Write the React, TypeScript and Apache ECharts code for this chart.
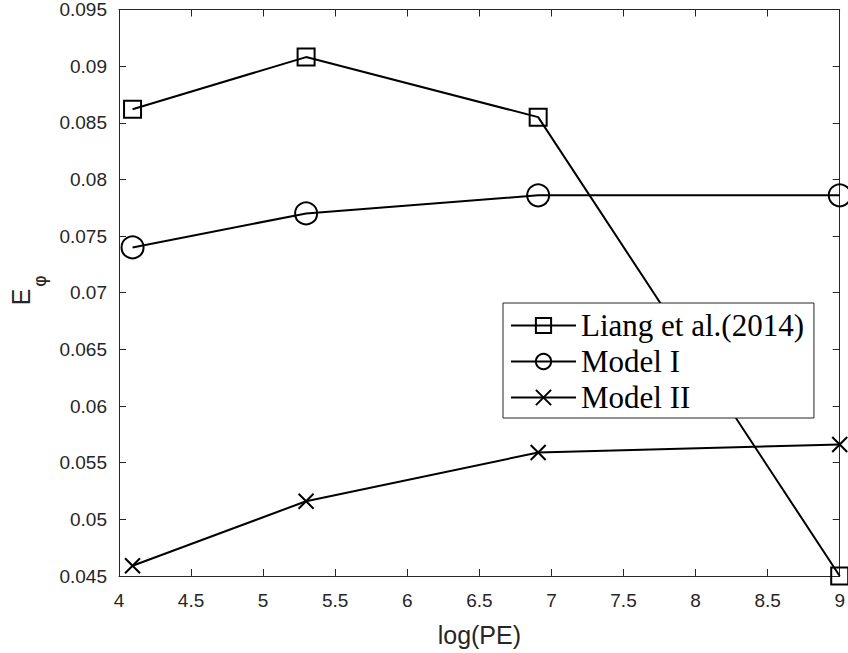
import React, { useEffect, useRef } from "react";
import * as echarts from "echarts";

const xValues = [4.094, 5.298, 6.908, 9.0];
const liang = [0.0862, 0.0908, 0.0855, 0.045];
const model1 = [0.0740, 0.0770, 0.0786, 0.0786];
const model2 = [0.0459, 0.0516, 0.0559, 0.0566];
const seriesNames = ["Liang et al.(2014)", "Model I", "Model II"];
const xAxisTitle = "log(PE)";
const yAxisTitle = "E";
const yAxisSub = "φ";

const crossPath = "path://M0,0L10,10M10,0L0,10";

export default function App() {
  const ref = useRef<HTMLDivElement>(null);
  useEffect(() => {
    if (!ref.current) return;
    const chart = echarts.init(ref.current, undefined, { renderer: "svg" });
    const toPairs = (ys: number[]) => xValues.map((x, i) => [x, ys[i]]);
    const axisLine = { show: true, lineStyle: { color: "#262626", width: 1 } };
    const tick = { show: true, inside: true, length: 7, lineStyle: { color: "#262626" } };
    const tickLabel = { color: "#262626", fontFamily: "Liberation Sans, Arial", fontSize: 19 };
    const mkSeries = (name: string, data: number[], symbol: string, size: number) => ({
      name,
      type: "line",
      data: toPairs(data),
      symbol,
      symbolSize: size,
      showSymbol: true,
      lineStyle: { color: "#000", width: 2 },
      itemStyle: { color: "rgba(0,0,0,0)", borderColor: "#000", borderWidth: 2 },
      emphasis: { disabled: true },
      clip: false,
    });
    chart.setOption({
      animation: false,
      backgroundColor: "#fff",
      grid: { left: 119, top: 5, right: 6, bottom: 77 },
      legend: {
        show: true,
        orient: "vertical",
        left: 503,
        top: 303,
        itemWidth: 65,
        itemHeight: 19,
        itemGap: 5,
        padding: [7, 10, 5, 7],
        backgroundColor: "#fff",
        borderColor: "#262626",
        borderWidth: 1,
        lineStyle: { color: "#000", width: 2 },
        itemStyle: { color: "rgba(0,0,0,0)", borderColor: "#000", borderWidth: 2 },
        textStyle: { fontFamily: "Liberation Serif, Times New Roman", fontSize: 31, color: "#000" },
        data: seriesNames,
      },
      graphic: [
        {
          type: "text",
          x: 21,
          y: 297,
          rotation: Math.PI / 2,
          style: {
            text: yAxisTitle,
            fontFamily: "Liberation Sans, Arial",
            fontSize: 25,
            fill: "#262626",
            align: "center",
            verticalAlign: "middle",
          },
        },
        {
          type: "text",
          x: 39,
          y: 281,
          rotation: Math.PI / 2,
          style: {
            text: yAxisSub,
            fontFamily: "DejaVu Sans",
            fontSize: 18,
            fill: "#262626",
            align: "center",
            verticalAlign: "middle",
          },
        },
      ],
      xAxis: [
        {
          type: "value",
          min: 4,
          max: 9,
          interval: 0.5,
          position: "bottom",
          axisLine,
          axisTick: tick,
          axisLabel: { ...tickLabel, margin: 15 },
          splitLine: { show: false },
          name: xAxisTitle,
          nameLocation: "middle",
          nameGap: 46,
          nameTextStyle: { color: "#262626", fontFamily: "Liberation Sans, Arial", fontSize: 25 },
        },
        {
          type: "value",
          min: 4,
          max: 9,
          interval: 0.5,
          position: "top",
          axisLine,
          axisTick: tick,
          axisLabel: { show: false },
          splitLine: { show: false },
        },
      ],
      yAxis: [
        {
          type: "value",
          min: 0.045,
          max: 0.095,
          interval: 0.005,
          position: "left",
          axisLine,
          axisTick: tick,
          axisLabel: { ...tickLabel, margin: 12, formatter: (v: number) => String(parseFloat(v.toFixed(3))) },
          splitLine: { show: false },
        },
        {
          type: "value",
          min: 0.045,
          max: 0.095,
          interval: 0.005,
          position: "right",
          axisLine,
          axisTick: tick,
          axisLabel: { show: false },
          splitLine: { show: false },
        },
      ],
      series: [
        mkSeries(seriesNames[0], liang, "rect", 17),
        mkSeries(seriesNames[1], model1, "circle", 22),
        mkSeries(seriesNames[2], model2, crossPath, 15),
      ],
    });
    return () => chart.dispose();
  }, []);
  return <div ref={ref} style={{ width: 848, height: 653, position: "absolute", left: 0, top: 0 }} />;
}
